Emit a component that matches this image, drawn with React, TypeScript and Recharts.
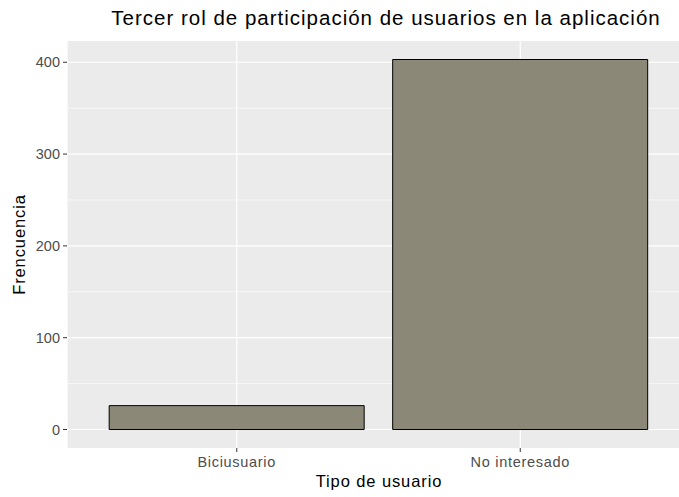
import React from "react";
import { BarChart, Bar, XAxis, YAxis, CartesianGrid, Label } from "recharts";

// data
const categories = ["Biciusuario", "No interesado"];
const counts = [26, 403];
const yTicks = [0, 100, 200, 300, 400];
const yMinor = [50, 150, 250, 350];

const data = categories.map((c, i) => ({ tipo: c, frecuencia: counts[i] }));

const FONT = "'Liberation Sans', Arial, sans-serif";

const YTitle = (props: any) => {
    const vb = props.viewBox || {};
    const cy = vb.y + vb.height / 2;
    return (
        <text
            x={19}
            y={cy}
            transform={`rotate(-90, 19, ${cy})`}
            textAnchor="middle"
            dominantBaseline="central"
            fontSize={16.5}
            letterSpacing={0.9}
            fontFamily={FONT}
            fill="#000"
        >
            Frencuencia
        </text>
    );
};

const XTitle = (props: any) => {
    const vb = props.viewBox || {};
    // centred on the visible part of the panel
    const cx = 379;
    return (
        <text
            x={cx}
            y={vb.y + 33}
            textAnchor="middle"
            dominantBaseline="central"
            fontSize={16.5}
            letterSpacing={0.9}
            fontFamily={FONT}
            fill="#000"
        >
            Tipo de usuario
        </text>
    );
};

const App: React.FC = () => {
    return (
        <div
            style={{
                position: "absolute",
                left: 0,
                top: 0,
                width: 679,
                height: 497,
                overflow: "hidden",
                background: "#fff",
                fontFamily: FONT,
            }}
        >
            <div
                style={{
                    position: "absolute",
                    left: 0,
                    width: 772,
                    top: 6,
                    textAlign: "center",
                    fontSize: 20.5,
                    letterSpacing: 1,
                    color: "#000",
                    lineHeight: "24px",
                }}
            >
                Tercer rol de participación de usuarios en la aplicación
            </div>
            <BarChart
                width={700}
                height={497}
                data={data}
                margin={{ top: 41, right: 10, bottom: 0, left: 0 }}
                barCategoryGap="5%"
            >
                <CartesianGrid
                    fill="#EBEBEB"
                    stroke="#FFFFFF"
                    strokeWidth={0.6}
                    horizontal={true}
                    vertical={false}
                    horizontalValues={yMinor}
                />
                <CartesianGrid
                    stroke="#FFFFFF"
                    strokeWidth={1.2}
                    horizontal={true}
                    vertical={true}
                    horizontalValues={yTicks}
                />
                <XAxis
                    dataKey="tipo"
                    type="category"
                    height={49}
                    padding={{ left: 28, right: 28 }}
                    axisLine={false}
                    tickLine={{ stroke: "#333333", strokeWidth: 1 }}
                    tickSize={4}
                    tickMargin={5}
                    tick={{ fill: "#4D4D4D", fontSize: 14.5, letterSpacing: 0.7, fontFamily: FONT }}
                >
                    <Label content={XTitle} />
                </XAxis>
                <YAxis
                    type="number"
                    domain={[-20.15, 423.15]}
                    ticks={yTicks}
                    allowDataOverflow={true}
                    width={67}
                    axisLine={false}
                    tickLine={{ stroke: "#333333", strokeWidth: 1 }}
                    tickSize={4}
                    tickMargin={3}
                    tick={{ fill: "#4D4D4D", fontSize: 14.5, fontFamily: FONT }}
                >
                    <Label content={YTitle} />
                </YAxis>
                <Bar
                    dataKey="frecuencia"
                    fill="#8B8878"
                    stroke="#000000"
                    strokeWidth={1}
                    isAnimationActive={false}
                />
            </BarChart>
        </div>
    );
};

export default App;
